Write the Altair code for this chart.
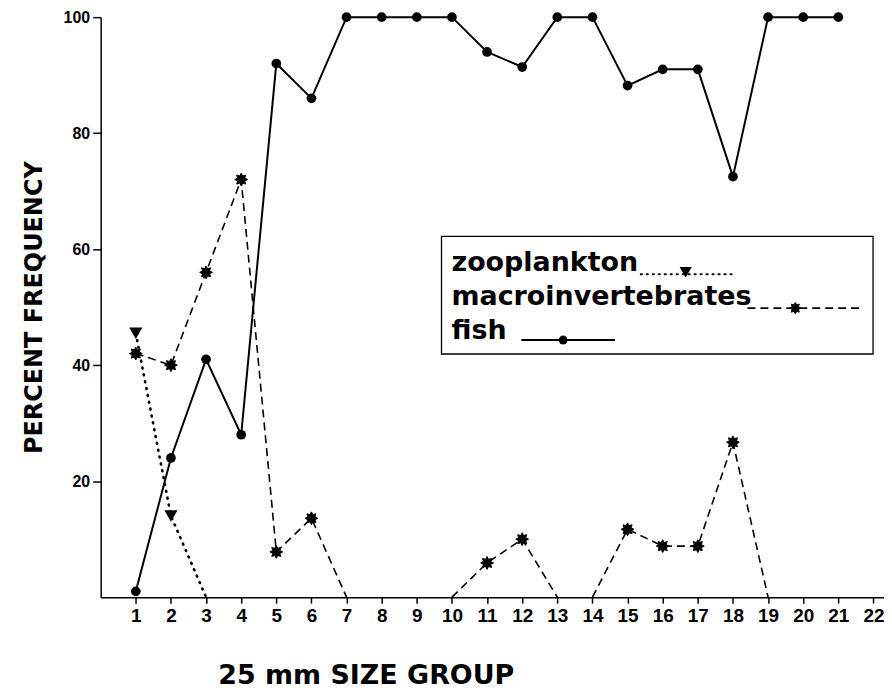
import altair as alt
import pandas as pd
import numpy as np

# ---- data ----
size_groups = list(range(1, 23))
fish_x = list(range(1, 22))
fish_pct = [1, 24, 41, 28, 92, 86, 100, 100, 100, 100, 94, 91.4, 100, 100, 88.2, 91, 91, 72.5, 100, 100, 100]
macro_x = list(range(1, 20))
macro_pct = [42, 40, 56, 72, 7.8, 13.6, 0, 0, 0, 0, 5.9, 10, 0, 0, 11.7, 8.8, 8.8, 26.7, 0]
zoo_x = [1, 2, 3]
zoo_pct = [45.5, 14, 0]
y_ticks = [20, 40, 60, 80, 100]


def runs(xs_, ps_):
    """Split a series into drawn runs: no segment is drawn between two zero values."""
    rows, seg = [], 0
    for i, (g, p) in enumerate(zip(xs_, ps_)):
        if i > 0 and p == 0 and ps_[i - 1] == 0:
            seg += 1
        rows.append({"g": g, "p": p, "seg": seg})
    return pd.DataFrame(rows)


fish_df = pd.DataFrame({"g": fish_x, "p": fish_pct})
macro_df = runs(macro_x, macro_pct)
zoo_df = runs(zoo_x, zoo_pct)

# 8-point star symbol
ang = np.arange(16) * np.pi / 8
rad = np.where(np.arange(16) % 2 == 0, 1.0, 0.6)
pts = [f"{np.cos(a)*r:.3f},{np.sin(a)*r:.3f}" for a, r in zip(ang, rad)]
STAR = "M" + " L".join(pts) + " Z"

TITLE_FONT = "DejaVu Sans, sans-serif"
NUM_FONT = "Liberation Sans, Arial, sans-serif"

xs = alt.Scale(domain=[0, 22.3], nice=False, zero=False)
ys = alt.Scale(domain=[0, 100], nice=False)

x_axis = alt.Axis(values=size_groups, title="25 mm SIZE GROUP", grid=False,
                  labelOverlap=False, labelFlush=False,
                  titleX=266, titleY=87, titleAlign="center", titleBaseline="alphabetic",
                  titleAnchor="start")
y_axis = alt.Axis(values=y_ticks, title="PERCENT FREQUENCY", grid=False, labelOverlap=False,
                  titleX=-59, titleY=291, titleAlign="center", titleBaseline="alphabetic",
                  titleAnchor="start", titleAngle=270)
X = alt.X("g:Q", scale=xs, axis=x_axis)
Y = alt.Y("p:Q", scale=ys, axis=y_axis)

fish_line = alt.Chart(fish_df).mark_line(color="black", strokeWidth=2).encode(x=X, y=Y)
fish_pts = alt.Chart(fish_df).mark_point(shape="circle", filled=True, color="black", size=95, opacity=1).encode(x=X, y=Y)

macro_line = alt.Chart(macro_df).mark_line(color="black", strokeWidth=1.6, strokeDash=[8, 5]).encode(
    x=X, y=Y, detail="seg:N")
macro_pts = alt.Chart(macro_df).transform_filter("datum.p > 0").mark_point(
    shape=STAR, filled=True, color="black", size=165, opacity=1, stroke="black", strokeWidth=1).encode(x=X, y=Y)

zoo_line = alt.Chart(zoo_df).mark_line(color="black", strokeWidth=2.6, strokeDash=[1, 6], strokeCap="round").encode(
    x=X, y=Y, detail="seg:N")
zoo_pts = alt.Chart(zoo_df).transform_filter("datum.p > 0").mark_point(
    shape="triangle-down", filled=True, color="black", size=175, opacity=1).encode(x=X, y=Y)

# ---- hand-made legend box ----
one = pd.DataFrame({"k": [0]})
box = alt.Chart(one).mark_rect(fill="white", stroke="black", strokeWidth=1.3).encode(
    x=alt.value(342), x2=alt.value(775), y=alt.value(220), y2=alt.value(338))


def ltext(label, yb):
    return alt.Chart(one).mark_text(align="left", baseline="alphabetic", font=TITLE_FONT,
                                    fontSize=27, fontWeight="bold", color="black").encode(
        x=alt.value(352), y=alt.value(yb), text=alt.value(label))


leg_zoo_line = alt.Chart(one).mark_rule(color="black", strokeWidth=2.2, strokeDash=[1, 5], strokeCap="round").encode(
    x=alt.value(542), x2=alt.value(634), y=alt.value(258))
leg_zoo_pt = alt.Chart(one).mark_point(shape="triangle-down", filled=True, color="black", size=150, opacity=1).encode(
    x=alt.value(587), y=alt.value(256))
leg_mac_line = alt.Chart(one).mark_rule(color="black", strokeWidth=1.6, strokeDash=[8, 5]).encode(
    x=alt.value(649), x2=alt.value(762), y=alt.value(292))
leg_mac_pt = alt.Chart(one).mark_point(shape=STAR, filled=True, color="black", size=130, opacity=1,
                                       stroke="black", strokeWidth=1).encode(
    x=alt.value(697), y=alt.value(292))
leg_fish_line = alt.Chart(one).mark_rule(color="black", strokeWidth=2).encode(
    x=alt.value(422), x2=alt.value(516), y=alt.value(324))
leg_fish_pt = alt.Chart(one).mark_point(shape="circle", filled=True, color="black", size=80, opacity=1).encode(
    x=alt.value(464), y=alt.value(324))

chart = alt.layer(
    fish_line, macro_line, zoo_line, fish_pts, macro_pts, zoo_pts,
    box, ltext("zooplankton", 255), ltext("macroinvertebrates", 289), ltext("fish", 323),
    leg_zoo_line, leg_zoo_pt, leg_mac_line, leg_mac_pt, leg_fish_line, leg_fish_pt,
).properties(
    width=786, height=582, autosize="none",
    padding={"left": 93, "top": 8, "right": 0, "bottom": 96},
).configure_view(stroke=None).configure_axis(
    domainColor="black", domainWidth=1.5, tickColor="black", tickWidth=1.5,
    labelColor="black", titleColor="black", grid=False,
    titleFont=TITLE_FONT, titleFontWeight="bold",
).configure_axisX(
    labelFont=NUM_FONT, labelFontSize=19, labelFontWeight="bold", labelPadding=3, tickSize=6,
    labelOverlap=False, titleFontSize=27,
).configure_axisY(
    labelFont=NUM_FONT, labelFontSize=16, labelFontWeight="bold", labelPadding=3, tickSize=8,
    labelOverlap=False, titleFontSize=24,
)

chart.save("out.html", embed_options={"renderer": "svg", "actions": False})
